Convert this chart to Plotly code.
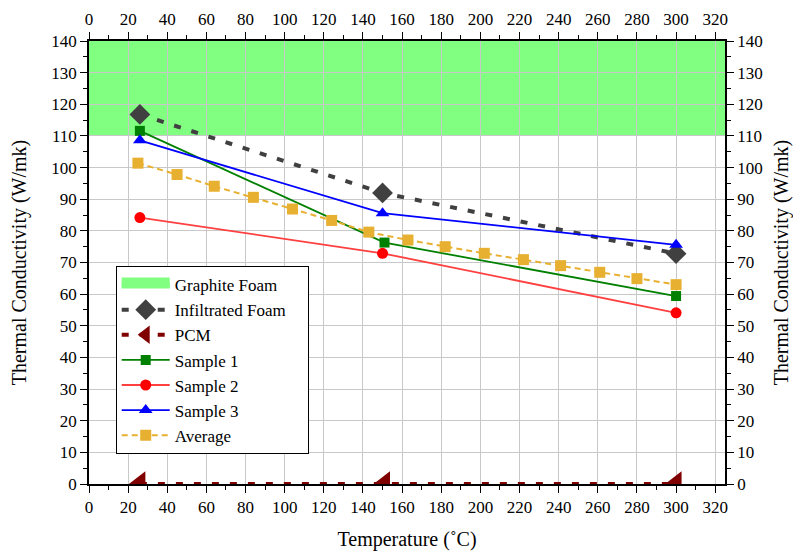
import plotly.graph_objects as go

# ---- data ----
foam_x = [26, 150, 300]
foam_y = [116.8, 92.0, 72.8]
pcm_x = [26, 151, 300]
pcm_y = [0, 0, 0]
s1_x = [26, 151, 300]
s1_y = [111.6, 76.3, 59.4]
s2_x = [26, 150, 300]
s2_y = [84.2, 72.9, 54.1]
s3_x = [26, 150, 300]
s3_y = [108.6, 85.6, 75.6]
avg_x = [25, 45, 64, 84, 104, 124, 143, 163, 182, 202, 222, 241, 261, 280, 300]
avg_y = [101.4, 97.8, 94.1, 90.6, 86.9, 83.3, 79.6, 77.1, 75.0, 72.9, 70.9, 69.0, 66.9, 64.9, 63.0]
graphite_band = [110, 140]
x_range = [0, 325]
y_range = [0, 140]

FONT = "Liberation Serif, Times New Roman, serif"
GREEN = "#80FF80"

fig = go.Figure()

# graphite foam band drawn beneath the grid
fig.add_shape(type="rect", xref="x", yref="y", x0=x_range[0], x1=x_range[1],
              y0=graphite_band[0], y1=graphite_band[1],
              fillcolor=GREEN, line=dict(width=0), layer="below")
# legend entry for the band
fig.add_trace(go.Scatter(
    x=[None], y=[None], name="Graphite Foam", mode="lines", fill="toself",
    fillcolor=GREEN, line=dict(color=GREEN, width=20), hoverinfo="skip"))

fig.add_trace(go.Scatter(
    x=foam_x, y=foam_y, name="Infiltrated Foam\u00a0\u00a0\u00a0\u00a0", mode="lines+markers",
    line=dict(color="#404040", width=4, dash="7px,11px"),
    marker=dict(symbol="diamond", size=16, color="#404040")))
fig.add_trace(go.Scatter(
    x=pcm_x, y=pcm_y, name="PCM", mode="lines+markers",
    line=dict(color="#800000", width=4, dash="7px,11px"),
    marker=dict(symbol="triangle-left", size=22, color="#800000")))
fig.add_trace(go.Scatter(
    x=s1_x, y=s1_y, name="Sample 1", mode="lines+markers",
    line=dict(color="#008000", width=1.8),
    marker=dict(symbol="square", size=10, color="#008000")))
fig.add_trace(go.Scatter(
    x=s2_x, y=s2_y, name="Sample 2", mode="lines+markers",
    line=dict(color="#FF4040", width=1.8),
    marker=dict(symbol="circle", size=11, color="#FF0000")))
fig.add_trace(go.Scatter(
    x=s3_x, y=s3_y, name="Sample 3", mode="lines+markers",
    line=dict(color="#0000FF", width=1.8),
    marker=dict(symbol="triangle-up", size=12, color="#0000FF")))
fig.add_trace(go.Scatter(
    x=avg_x, y=avg_y, name="Average", mode="lines+markers",
    line=dict(color="#E8B030", width=2, dash="6px,4px"),
    marker=dict(symbol="square", size=11, color="#E8B030")))

common_axis = dict(
    showline=True, linecolor="black", linewidth=1.5,
    ticks="outside", ticklen=7, tickwidth=1.2, tickcolor="black",
    tickfont=dict(family=FONT, size=17, color="black"),
    zeroline=False, automargin=False,
)

fig.update_layout(
    width=785, height=543,
    margin=dict(l=81, r=68, t=33, b=67),
    paper_bgcolor="white", plot_bgcolor="white",
    font=dict(family=FONT, size=17, color="black"),
    showlegend=True,
    legend=dict(x=0.042, y=0.492, xanchor="left", yanchor="top",
                bgcolor="white", bordercolor="black", borderwidth=1,
                font=dict(family=FONT, size=17, color="black"),
                tracegroupgap=0, itemwidth=48),
    xaxis=dict(range=x_range, dtick=20, tick0=0, showgrid=True,
               gridcolor="#C8C8C8", gridwidth=1,
               minor=dict(ticks="outside", ticklen=4, dtick=10, tickcolor="black", showgrid=False),
               title=dict(text="Temperature (˚C)", font=dict(family=FONT, size=20), standoff=24),
               mirror=True, **common_axis),
    xaxis2=dict(range=x_range, dtick=20, tick0=0, overlaying="x", side="top",
                showgrid=False, anchor="y",
                minor=dict(ticks="outside", ticklen=4, dtick=10, tickcolor="black", showgrid=False),
                **common_axis),
    yaxis=dict(range=y_range, dtick=10, tick0=0, showgrid=True,
               gridcolor="#C8C8C8", gridwidth=1,
               minor=dict(ticks="outside", ticklen=4, dtick=5, tickcolor="black", showgrid=False),
               title=dict(text="Thermal Conductivity (W/mk)", font=dict(family=FONT, size=20), standoff=19),
               mirror=True, **common_axis),
    yaxis2=dict(range=y_range, dtick=10, tick0=0, overlaying="y", side="right",
                showgrid=False, anchor="x",
                minor=dict(ticks="outside", ticklen=4, dtick=5, tickcolor="black", showgrid=False),
                title=dict(text="Thermal Conductivity (W/mk)", font=dict(family=FONT, size=20), standoff=20),
                **common_axis),
)

# invisible trace to activate secondary axes
fig.add_trace(go.Scatter(x=[None], y=[None], xaxis="x2", yaxis="y2", showlegend=False, hoverinfo="skip"))

fig.write_html("out.html")
